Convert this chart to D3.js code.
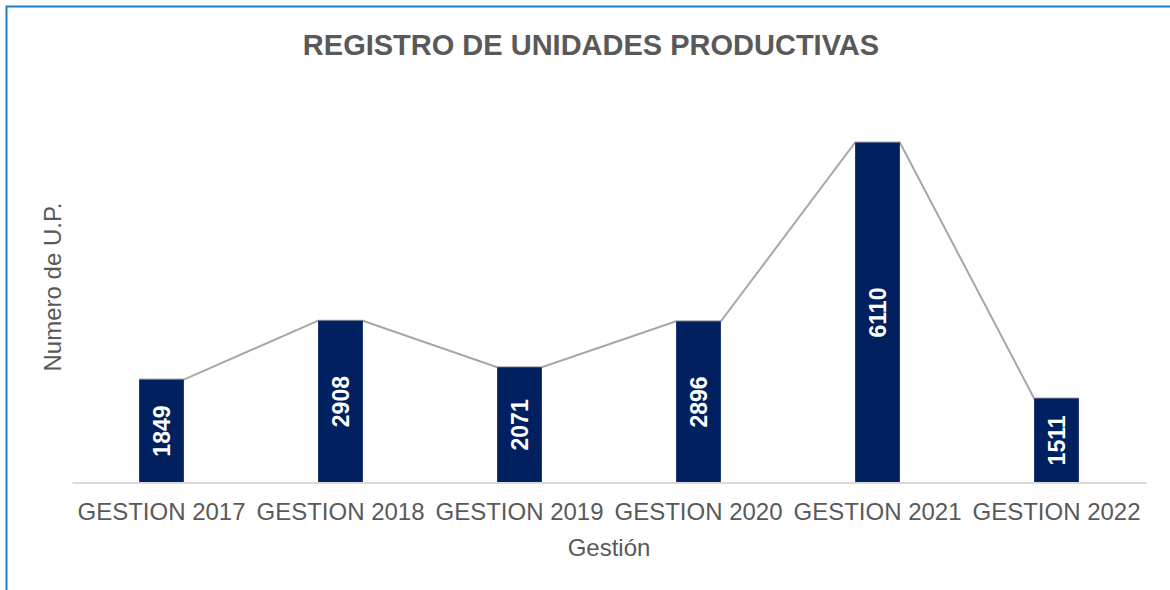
<!DOCTYPE html>
<html>
<head>
<meta charset="utf-8">
<title>Registro de Unidades Productivas</title>
<script src="https://d3js.org/d3.v7.min.js"></script>
<style>
  body { margin: 0; background: #fff; }
  text { font-family: "Liberation Sans", Arial, sans-serif; }
</style>
</head>
<body>
<svg width="1170" height="590"></svg>
<script>
// chart data
var categories = ["GESTION 2017", "GESTION 2018", "GESTION 2019", "GESTION 2020", "GESTION 2021", "GESTION 2022"];
var values = [1849, 2908, 2071, 2896, 6110, 1511];
var yMax = 7000;

var svg = d3.select("svg");

// outer frame (runs off the right and bottom edge)
svg.append("rect")
  .attr("x", 6.5).attr("y", 6.5)
  .attr("width", 1200).attr("height", 620)
  .style("fill", "none")
  .style("stroke", "#1F7DD0")
  .style("stroke-width", 2);

var plotLeft = 72, plotRight = 1146, plotTop = 93, plotBase = 482.5;

var x = d3.scaleBand().domain(categories).range([plotLeft, plotRight]).paddingInner(0.75).paddingOuter(0.375);
var y = d3.scaleLinear().domain([0, yMax]).range([plotBase, plotTop]);

// line joining the bar tops, corner to corner
var pts = [];
values.forEach(function(v, i) {
  pts.push([x(categories[i]), y(v)]);
  pts.push([x(categories[i]) + x.bandwidth(), y(v)]);
});
svg.append("path")
  .attr("d", d3.line()(pts))
  .style("fill", "none")
  .style("stroke", "#A6A6A6")
  .style("stroke-width", 2);

// bars
svg.selectAll("rect.bar").data(values).enter().append("rect")
  .attr("class", "bar")
  .attr("x", function(d, i) { return x(categories[i]); })
  .attr("y", function(d) { return y(d); })
  .attr("width", x.bandwidth())
  .attr("height", function(d) { return plotBase - y(d); })
  .style("fill", "#002060");

// x axis
var xAxis = svg.append("g").attr("transform", "translate(0," + plotBase + ")")
  .call(d3.axisBottom(x).tickSize(0).tickPadding(0));
xAxis.select(".domain").style("stroke", "#D9D9D9").style("stroke-width", 2);
xAxis.selectAll("text")
  .attr("dy", null)
  .attr("y", 37.5)
  .style("font-size", "24px")
  .style("fill", "#595959");

// data labels, rotated, centred in each bar
svg.selectAll("text.lbl").data(values).enter().append("text")
  .attr("class", "lbl")
  .attr("transform", function(d, i) {
    var cx = x(categories[i]) + x.bandwidth() / 2;
    var cy = (y(d) + plotBase) / 2;
    return "translate(" + cx + "," + cy + ") rotate(-90)";
  })
  .attr("text-anchor", "middle")
  .attr("dy", "0.36em")
  .style("font-size", "23px")
  .style("font-weight", "bold")
  .style("fill", "#ffffff")
  .text(function(d) { return d; });

// title
svg.append("text")
  .attr("x", 591).attr("y", 55)
  .attr("text-anchor", "middle")
  .style("font-size", "29px")
  .style("font-weight", "bold")
  .style("fill", "#595959")
  .text("REGISTRO DE UNIDADES PRODUCTIVAS");

// axis titles
svg.append("text")
  .attr("x", 609).attr("y", 556)
  .attr("text-anchor", "middle")
  .style("font-size", "24px")
  .style("fill", "#595959")
  .text("Gestión");

svg.append("text")
  .attr("transform", "translate(61,287) rotate(-90)")
  .attr("text-anchor", "middle")
  .style("font-size", "24px")
  .style("fill", "#595959")
  .text("Numero de U.P.");
</script>
</body>
</html>
